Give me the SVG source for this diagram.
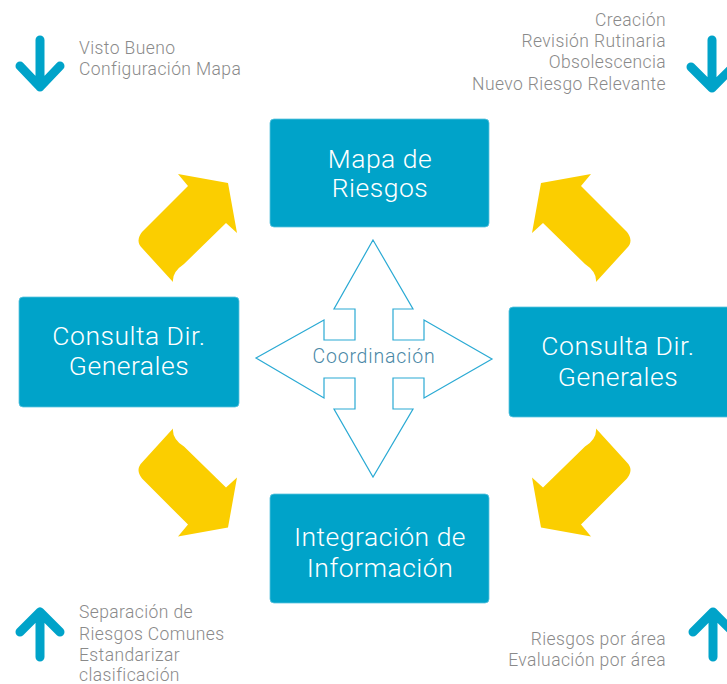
<svg xmlns="http://www.w3.org/2000/svg" width="727" height="684" viewBox="0 0 727 684">
<style>
.box{fill:#00a3c9;stroke:#5cc3de;stroke-width:0.8}
.bt{font-family:Roboto,"Liberation Sans",sans-serif;font-weight:300;font-size:26.5px;letter-spacing:0.5px;fill:#ffffff;text-anchor:middle}
.nt{font-family:Roboto,"Liberation Sans",sans-serif;font-weight:300;font-size:17.5px;letter-spacing:0.4px;fill:#8a8a8a}
.r{text-anchor:end}
.ya{fill:#fbce00}
.ba{fill:none;stroke:#00a3c9;stroke-width:9;stroke-linecap:round;stroke-linejoin:round}
.co{fill:#ffffff;stroke:#2aaad4;stroke-width:1.2;stroke-linejoin:miter}
</style>
<defs>
<path id="yarr" d="M188,186 L142,232 Q135,241 142,248 L173,282 Q172,272 184,264 L226,223 L237,233 L228,183 L178,174 Z"/>
</defs>
<rect width="727" height="684" fill="#ffffff"/>
<g id="connectors">
<use href="#yarr" class="ya"/>
<use href="#yarr" class="ya" transform="translate(769,0) scale(-1,1)"/>
<use href="#yarr" class="ya" transform="translate(0,710.6) scale(1,-1)"/>
<use href="#yarr" class="ya" transform="translate(769,710.6) scale(-1,-1)"/>
</g>
<g id="coordinacion">
<path class="co" d="M373,240 L413,309 L393,309 L393,340 L424,340 L424,320 L492,359 L424,398 L424,378 L393,378 L393,409 L413,409 L373,477 L334,409 L355,409 L355,378 L324,378 L324,398 L256,358 L324,320 L324,340 L355,340 L355,309 L334,309 Z"/>
<text x="374" y="363" style="font-family:Roboto,'Liberation Sans',sans-serif;font-weight:300;font-size:19.5px;letter-spacing:0.8px;fill:#4a88a6;text-anchor:middle">Coordinación</text>
</g>
<g id="mapa">
<rect class="box" x="270" y="119" width="219" height="108" rx="4"/>
<text class="bt" x="380" y="168">Mapa de</text>
<text class="bt" x="380" y="197">Riesgos</text>
</g>
<g id="consulta-izq">
<rect class="box" x="19" y="297" width="220" height="110" rx="4"/>
<text class="bt" x="129" y="345">Consulta Dir.</text>
<text class="bt" x="129" y="375">Generales</text>
</g>
<g id="consulta-der">
<rect class="box" x="509" y="307" width="222" height="110" rx="4"/>
<text class="bt" x="618" y="355">Consulta Dir.</text>
<text class="bt" x="618" y="386">Generales</text>
</g>
<g id="integracion">
<rect class="box" x="270" y="494" width="219" height="109" rx="4"/>
<text class="bt" x="380" y="546">Integración de</text>
<text class="bt" x="380" y="577">Información</text>
</g>
<g id="nota-sup-izq">
<path class="ba" d="M40,40 L40,87 M20,66 L40,87 L60,66"/>
<text class="nt" x="79" y="54">Visto Bueno</text>
<text class="nt" x="79" y="75">Configuración Mapa</text>
</g>
<g id="nota-sup-der">
<path class="ba" d="M712,40 L712,88 M691,67 L712,88 L733,67"/>
<text class="nt r" x="666" y="26">Creación</text>
<text class="nt r" x="666" y="47">Revisión Rutinaria</text>
<text class="nt r" x="666" y="68">Obsolescencia</text>
<text class="nt r" x="666" y="90">Nuevo Riesgo Relevante</text>
</g>
<g id="nota-inf-izq">
<path class="ba" d="M40,657 L40,612 M20,632 L40,612 L60,632"/>
<text class="nt" x="79" y="618">Separación de</text>
<text class="nt" x="79" y="640">Riesgos Comunes</text>
<text class="nt" x="79" y="661">Estandarizar</text>
<text class="nt" x="79" y="681">clasificación</text>
</g>
<g id="nota-inf-der">
<path class="ba" d="M713,657 L713,612 M693,632 L713,612 L733,632"/>
<text class="nt r" x="666" y="645">Riesgos por área</text>
<text class="nt r" x="666" y="666">Evaluación por área</text>
</g>
</svg>
